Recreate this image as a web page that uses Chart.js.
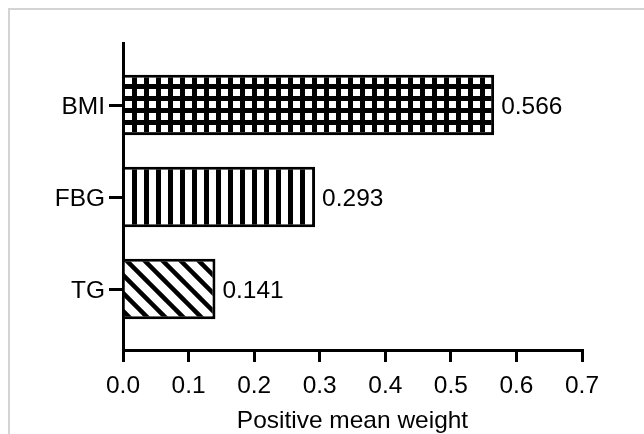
<!DOCTYPE html>
<html>
<head>
<meta charset="utf-8">
<script src="https://cdn.jsdelivr.net/npm/chart.js@4.4.0/dist/chart.umd.min.js"></script>
<style>
  html, body { margin: 0; padding: 0; background: #fff; overflow: hidden; }
  #frame { position: absolute; left: 8px; top: 8px; width: 700px; height: 500px; border: 2px solid #d4d4d4; }
  #weightChart { position: absolute; left: 0; top: 0; }
</style>
</head>
<body>
<div id="frame"></div>
<canvas id="weightChart" width="644" height="434"></canvas>
<script>
'use strict';

const categories = ['BMI', 'FBG', 'TG'];
const weights = [0.566, 0.293, 0.141];
const xTicks = [0, 0.1, 0.2, 0.3, 0.4, 0.5, 0.6, 0.7];
const xTitle = 'Positive mean weight';

// text is a touch wider than plain Arial in the original
const FONT = '24px "Liberation Sans", Arial, sans-serif';
const STRETCH = 1.02;
const HALF_CAP = 8.6;

let ctx = document.getElementById('weightChart').getContext('2d');

function tile (w, h, draw) {
  let c = document.createElement('canvas');
  c.width = w;
  c.height = h;
  let g = c.getContext('2d');
  draw(g, w, h);
  return ctx.createPattern(c, 'repeat');
}

// white squares on black (BMI)
let gridFill = tile(12, 12, (g, w, h) => {
  g.fillStyle = '#000';
  g.fillRect(0, 0, w, h);
  g.fillStyle = '#fff';
  g.fillRect(5, 5, 7, 7);
});

// vertical stripes (FBG)
let stripeFill = tile(12, 12, (g, w, h) => {
  g.fillStyle = '#fff';
  g.fillRect(0, 0, w, h);
  g.fillStyle = '#000';
  g.fillRect(0, 0, 5, h);
});

// diagonal hatch (TG)
let hatchFill = tile(18, 18, (g, w, h) => {
  g.fillStyle = '#fff';
  g.fillRect(0, 0, w, h);
  g.strokeStyle = '#000';
  g.lineWidth = 4.5;
  for (let k = -2; k <= 2; k++) {
    g.beginPath();
    g.moveTo(10 + k * w - w, -h);
    g.lineTo(10 + k * w + 2 * w, 2 * h);
    g.stroke();
  }
});

function put (c, text, x, y, align) {
  c.save();
  c.translate(x, y);
  c.scale(STRETCH, 1);
  c.textAlign = align;
  c.textBaseline = 'alphabetic';
  c.fillText(text, 0, 0);
  c.restore();
}

const stretchedText = {
  id: 'stretchedText',
  afterDraw (chart) {
    let c = chart.ctx;
    let area = chart.chartArea;
    let xs = chart.scales.x;
    let ys = chart.scales.y;
    c.save();
    c.fillStyle = '#000';
    c.font = FONT;
    xTicks.forEach(v => put(c, v.toFixed(1), xs.getPixelForValue(v), area.bottom + 43, 'center'));
    categories.forEach((name, i) => put(c, name, area.left - 18, ys.getPixelForValue(i) + HALF_CAP, 'right'));
    put(c, xTitle, (area.left + area.right) / 2, area.bottom + 78, 'center');
    chart.getDatasetMeta(0).data.forEach((bar, i) => {
      put(c, weights[i].toFixed(3), bar.x + 7, bar.y + HALF_CAP, 'left');
    });
    c.restore();
  }
};

let chart = new Chart(ctx, {
  type: 'bar',
  data: {
    datasets: [{
      data: weights.map((w, i) => ({ x: w, y: i })),
      backgroundColor: [gridFill, stripeFill, hatchFill],
      borderColor: '#000',
      borderWidth: 3,
      borderSkipped: 'start',
      barPercentage: 0.66,
      categoryPercentage: 1
    }]
  },
  options: {
    indexAxis: 'y',
    responsive: false,
    animation: false,
    events: [],
    layout: { padding: { top: 43, right: 62, left: 0, bottom: 0 } },
    plugins: {
      legend: { display: false },
      tooltip: { enabled: false }
    },
    scales: {
      x: {
        type: 'linear',
        min: 0,
        max: 0.7,
        afterBuildTicks: s => { s.ticks = xTicks.map(v => ({ value: v })); },
        afterFit: s => { s.height = 84; },
        ticks: { display: false },
        grid: { drawOnChartArea: false, color: '#000', lineWidth: 3, tickLength: 12 },
        border: { color: '#000', width: 3 }
      },
      y: {
        type: 'linear',
        reverse: true,
        offset: false,
        min: -0.674,
        max: 2.663,
        afterBuildTicks: s => { s.ticks = categories.map((c, i) => ({ value: i })); },
        afterFit: s => { s.width = 123; },
        ticks: { display: false },
        grid: { offset: false, drawOnChartArea: false, color: '#000', lineWidth: 3, tickLength: 14 },
        border: { color: '#000', width: 3 }
      }
    }
  },
  plugins: [stretchedText]
});
</script>
</body>
</html>
